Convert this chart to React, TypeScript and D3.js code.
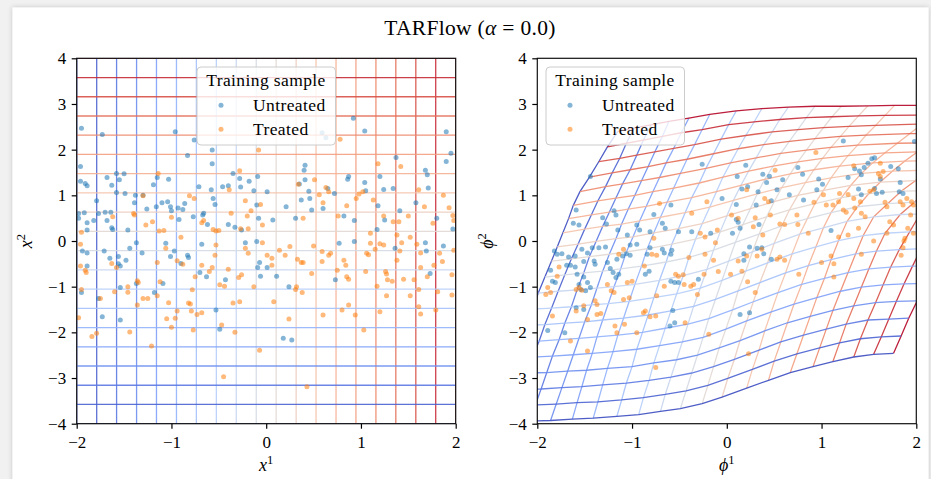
import * as d3 from "d3";
import React, { useEffect, useRef } from "react";

const WIDTH = 931;
const HEIGHT = 479;
const SERIF = "'Liberation Serif', 'DejaVu Serif', serif";

const TICKS_X = [-2, -1, 0, 1, 2];
const TICKS_Y = [-4, -3, -2, -1, 0, 1, 2, 3, 4];
const SERIES = ["Untreated", "Treated"];
const SERIES_COLORS = ["#1f77b4", "#ff7f0e"];

// uniform grid in data space (x1 and x2 lines)
const GRID_U = [-2, -1.789, -1.579, -1.368, -1.158, -0.947, -0.737, -0.526, -0.316, -0.105,
  0.105, 0.316, 0.526, 0.737, 0.947, 1.158, 1.368, 1.579, 1.789, 2];
const GRID_V = [-4, -3.579, -3.158, -2.737, -2.316, -1.895, -1.474, -1.053, -0.632, -0.211,
  0.211, 0.632, 1.053, 1.474, 1.895, 2.316, 2.737, 3.158, 3.579, 4];

// the same grid after the flow: node [row j][column i]
const PHI_GRID_X = [
  [-2.53, -2.30, -2.08, -1.86, -1.63, -1.41, -1.16, -0.93, -0.70, -0.49, -0.26, -0.05, 0.21, 0.44, 0.67, 0.91, 1.12, 1.34, 1.55, 1.76],
  [-2.46, -2.24, -2.02, -1.80, -1.58, -1.36, -1.11, -0.88, -0.65, -0.43, -0.20, 0.01, 0.27, 0.50, 0.74, 0.98, 1.19, 1.41, 1.63, 1.84],
  [-2.39, -2.18, -1.96, -1.74, -1.53, -1.31, -1.06, -0.82, -0.59, -0.37, -0.14, 0.08, 0.34, 0.57, 0.81, 1.05, 1.26, 1.49, 1.71, 1.92],
  [-2.32, -2.11, -1.90, -1.68, -1.48, -1.26, -1.00, -0.77, -0.53, -0.31, -0.08, 0.14, 0.40, 0.64, 0.88, 1.12, 1.34, 1.57, 1.79, 2.01],
  [-2.25, -2.05, -1.84, -1.62, -1.42, -1.20, -0.95, -0.71, -0.47, -0.25, -0.01, 0.21, 0.47, 0.71, 0.95, 1.20, 1.42, 1.65, 1.87, 2.09],
  [-2.18, -1.98, -1.77, -1.56, -1.37, -1.15, -0.89, -0.65, -0.41, -0.19, 0.06, 0.28, 0.54, 0.79, 1.03, 1.28, 1.50, 1.73, 1.96, 2.18],
  [-2.11, -1.92, -1.71, -1.50, -1.31, -1.09, -0.83, -0.59, -0.35, -0.12, 0.12, 0.35, 0.62, 0.86, 1.10, 1.36, 1.58, 1.82, 2.05, 2.28],
  [-2.05, -1.85, -1.64, -1.43, -1.25, -1.03, -0.77, -0.53, -0.28, -0.05, 0.20, 0.43, 0.69, 0.94, 1.18, 1.44, 1.67, 1.93, 2.16, 2.39],
  [-1.99, -1.78, -1.58, -1.37, -1.19, -0.97, -0.71, -0.46, -0.21, 0.02, 0.27, 0.50, 0.77, 1.02, 1.27, 1.55, 1.83, 2.04, 2.27, 2.50],
  [-1.92, -1.71, -1.51, -1.31, -1.12, -0.90, -0.64, -0.40, -0.14, 0.09, 0.34, 0.58, 0.85, 1.10, 1.38, 1.70, 1.98, 2.18, 2.40, 2.63],
  [-1.85, -1.64, -1.45, -1.24, -1.06, -0.84, -0.58, -0.33, -0.07, 0.17, 0.42, 0.66, 0.93, 1.21, 1.50, 1.84, 2.12, 2.32, 2.53, 2.75],
  [-1.79, -1.57, -1.38, -1.17, -0.99, -0.77, -0.51, -0.26, 0.00, 0.25, 0.50, 0.75, 1.02, 1.31, 1.62, 1.99, 2.26, 2.46, 2.66, 2.88],
  [-1.73, -1.50, -1.31, -1.11, -0.92, -0.70, -0.44, -0.18, 0.07, 0.32, 0.58, 0.83, 1.10, 1.42, 1.75, 2.13, 2.40, 2.60, 2.80, 3.01],
  [-1.67, -1.43, -1.24, -1.04, -0.85, -0.63, -0.37, -0.11, 0.15, 0.40, 0.67, 0.92, 1.19, 1.54, 1.88, 2.28, 2.54, 2.74, 2.94, 3.14],
  [-1.62, -1.36, -1.17, -0.97, -0.78, -0.56, -0.29, -0.04, 0.23, 0.49, 0.75, 1.01, 1.28, 1.67, 2.01, 2.42, 2.68, 2.88, 3.08, 3.27],
  [-1.55, -1.28, -1.10, -0.90, -0.71, -0.49, -0.22, 0.04, 0.31, 0.57, 0.84, 1.10, 1.38, 1.80, 2.14, 2.56, 2.82, 3.02, 3.22, 3.40],
  [-1.45, -1.21, -1.02, -0.83, -0.64, -0.42, -0.14, 0.12, 0.39, 0.66, 0.93, 1.20, 1.47, 1.93, 2.27, 2.70, 2.96, 3.16, 3.36, 3.53],
  [-1.35, -1.13, -0.95, -0.76, -0.56, -0.34, -0.06, 0.20, 0.48, 0.75, 1.02, 1.29, 1.57, 2.06, 2.40, 2.84, 3.10, 3.30, 3.50, 3.66],
  [-1.26, -1.06, -0.88, -0.68, -0.48, -0.26, 0.02, 0.29, 0.56, 0.84, 1.11, 1.39, 1.67, 2.19, 2.53, 2.98, 3.24, 3.44, 3.64, 3.79],
  [-1.15, -0.98, -0.80, -0.61, -0.40, -0.18, 0.10, 0.37, 0.65, 0.93, 1.21, 1.49, 1.77, 2.32, 2.66, 3.12, 3.38, 3.58, 3.78, 3.92],
];
const PHI_GRID_Y = [
  [-3.96, -3.95, -3.94, -3.93, -3.90, -3.88, -3.84, -3.80, -3.73, -3.67, -3.56, -3.42, -3.22, -3.05, -2.88, -2.75, -2.64, -2.54, -2.48, -2.46],
  [-3.61, -3.60, -3.59, -3.57, -3.54, -3.52, -3.48, -3.43, -3.36, -3.28, -3.16, -3.01, -2.81, -2.63, -2.47, -2.34, -2.23, -2.14, -2.10, -2.08],
  [-3.25, -3.25, -3.24, -3.21, -3.19, -3.15, -3.11, -3.05, -2.98, -2.89, -2.75, -2.59, -2.39, -2.21, -2.06, -1.93, -1.82, -1.73, -1.71, -1.69],
  [-2.90, -2.89, -2.88, -2.85, -2.83, -2.79, -2.75, -2.67, -2.60, -2.50, -2.34, -2.18, -1.97, -1.79, -1.65, -1.52, -1.42, -1.35, -1.32, -1.31],
  [-2.55, -2.54, -2.52, -2.49, -2.46, -2.42, -2.37, -2.29, -2.21, -2.11, -1.93, -1.75, -1.55, -1.38, -1.24, -1.10, -1.01, -0.96, -0.94, -0.93],
  [-2.20, -2.19, -2.16, -2.13, -2.10, -2.06, -2.00, -1.91, -1.82, -1.70, -1.51, -1.33, -1.13, -0.95, -0.82, -0.69, -0.61, -0.57, -0.55, -0.55],
  [-1.84, -1.83, -1.80, -1.77, -1.73, -1.69, -1.62, -1.53, -1.43, -1.28, -1.09, -0.91, -0.70, -0.54, -0.41, -0.28, -0.22, -0.19, -0.17, -0.17],
  [-1.49, -1.47, -1.44, -1.40, -1.37, -1.32, -1.24, -1.16, -1.03, -0.86, -0.66, -0.48, -0.28, -0.13, 0.01, 0.12, 0.17, 0.20, 0.21, 0.21],
  [-1.14, -1.10, -1.07, -1.03, -1.00, -0.95, -0.86, -0.76, -0.62, -0.44, -0.24, -0.05, 0.15, 0.29, 0.43, 0.53, 0.58, 0.59, 0.59, 0.60],
  [-0.79, -0.74, -0.70, -0.66, -0.61, -0.55, -0.46, -0.36, -0.20, -0.03, 0.15, 0.33, 0.49, 0.62, 0.75, 0.82, 0.85, 0.86, 0.86, 0.86],
  [-0.44, -0.39, -0.34, -0.29, -0.24, -0.17, -0.07, 0.04, 0.20, 0.36, 0.53, 0.68, 0.82, 0.95, 1.04, 1.09, 1.10, 1.11, 1.11, 1.11],
  [-0.13, -0.07, -0.01, 0.05, 0.09, 0.18, 0.27, 0.38, 0.55, 0.71, 0.86, 1.00, 1.11, 1.22, 1.29, 1.32, 1.33, 1.33, 1.33, 1.34],
  [0.18, 0.26, 0.32, 0.37, 0.44, 0.52, 0.62, 0.74, 0.89, 1.03, 1.17, 1.28, 1.38, 1.48, 1.53, 1.55, 1.55, 1.55, 1.56, 1.56],
  [0.49, 0.57, 0.63, 0.70, 0.76, 0.85, 0.95, 1.08, 1.22, 1.35, 1.47, 1.56, 1.64, 1.71, 1.75, 1.76, 1.76, 1.77, 1.77, 1.77],
  [0.78, 0.88, 0.94, 1.00, 1.08, 1.16, 1.27, 1.40, 1.53, 1.64, 1.73, 1.81, 1.87, 1.93, 1.95, 1.96, 1.96, 1.97, 1.97, 1.97],
  [1.08, 1.19, 1.25, 1.32, 1.39, 1.48, 1.59, 1.71, 1.82, 1.92, 1.99, 2.05, 2.10, 2.14, 2.15, 2.16, 2.16, 2.17, 2.17, 2.17],
  [1.40, 1.49, 1.56, 1.63, 1.71, 1.79, 1.91, 2.02, 2.11, 2.18, 2.24, 2.29, 2.32, 2.35, 2.36, 2.36, 2.37, 2.37, 2.37, 2.37],
  [1.74, 1.81, 1.88, 1.95, 2.03, 2.11, 2.23, 2.31, 2.39, 2.44, 2.48, 2.51, 2.53, 2.56, 2.56, 2.57, 2.57, 2.57, 2.58, 2.58],
  [2.06, 2.14, 2.21, 2.29, 2.37, 2.44, 2.55, 2.61, 2.66, 2.70, 2.72, 2.74, 2.75, 2.76, 2.77, 2.77, 2.78, 2.78, 2.78, 2.79],
  [2.40, 2.47, 2.54, 2.62, 2.69, 2.77, 2.85, 2.90, 2.93, 2.95, 2.95, 2.96, 2.97, 2.97, 2.98, 2.98, 2.99, 2.99, 3.00, 3.00],
];

// training sample in data space (left panel)
const UNTREATED_X = [
  [-1.95, 2.47], [-1.96, 1.63], [-1.96, 1.31], [-1.91, 1.26], [-1.89, 1.21], [-1.98, 0.60], [-1.98, 0.50], [-1.92, 0.62],
  [-1.89, 0.40], [-1.82, 0.45], [-1.89, 0.24], [-1.73, 2.33], [-1.79, 0.88], [-1.77, 0.60], [-1.68, 1.39], [-1.70, 0.63],
  [-1.64, 0.63], [-1.68, 0.45], [-1.63, 1.22], [-1.63, 0.29], [-1.62, 0.25], [-1.58, 1.48], [-1.55, 1.34], [-1.58, 1.06],
  [-1.50, 1.47], [-1.49, 1.04], [-1.46, 0.24], [-1.38, 1.00], [-1.39, 0.84], [-1.30, 1.00], [-1.26, 0.70], [-1.19, 1.23],
  [-1.16, 0.75], [-1.15, 1.39], [-1.10, 0.84], [-1.04, 0.86], [-1.03, 1.35], [-1.01, 0.75], [-1.00, 0.66], [-0.96, 2.39],
  [-0.93, 0.72], [-0.92, 0.47], [-0.88, 0.69], [-0.86, 0.82], [-0.83, 1.87], [-0.77, 0.53], [-0.76, 2.21], [-0.71, 1.19],
  [-0.67, 0.57], [-0.66, 0.61], [-0.62, 0.36], [-0.58, 1.12], [-0.57, 1.99], [-0.57, 1.69], [-0.56, 0.93], [-0.54, 0.80],
  [-0.46, 1.19], [-0.40, 1.21], [-0.40, 0.36], [-0.35, 1.48], [-0.33, 0.30], [-0.28, 1.37], [-0.27, 1.18], [-0.26, 0.24],
  [-0.18, 1.31], [-0.13, 1.10], [-0.09, 1.41], [-0.10, 0.79], [-0.08, 0.50], [0.01, 1.08], [0.07, 0.46], [0.21, 0.75],
  [0.31, 0.50], [0.35, 1.25], [0.37, 0.90], [0.40, 1.55], [0.41, 1.66], [0.41, 1.34], [0.45, 1.09], [0.46, 0.93],
  [0.48, 0.68], [0.59, 2.37], [0.63, 2.26], [0.60, 0.71], [0.65, 1.15], [0.72, 1.04], [0.82, 0.55], [0.86, 1.35],
  [0.87, 1.41], [0.92, 2.69], [0.93, 0.45], [1.04, 2.41], [1.04, 1.28], [1.05, 1.10], [1.17, 0.25], [1.18, 0.77],
  [1.20, 1.41], [1.24, 1.13], [1.25, 0.46], [1.34, 1.15], [1.37, 1.83], [1.41, 0.66], [1.58, 0.84], [1.68, 1.55],
  [1.70, 1.45], [1.71, 1.16], [1.80, 0.50], [1.90, 2.39], [1.90, 1.74], [1.95, 1.92], [1.97, 0.26],
  [-1.95, -1.13], [-1.94, -0.22], [-1.89, -0.26], [-1.89, -0.55], [-1.77, -1.26], [-1.73, -1.66], [-1.71, -0.22],
  [-1.65, -0.38], [-1.56, -0.34], [-1.56, -0.50], [-1.54, -0.55], [-1.54, -1.02], [-1.54, -1.73], [-1.48, -0.42],
  [-1.44, -0.16], [-1.37, -0.04], [-1.37, -0.93], [-1.31, -0.26], [-1.18, -1.13], [-1.09, -0.93], [-1.06, -0.05],
  [-1.01, -0.34], [-0.97, -0.22], [-0.90, -0.49], [-0.83, -0.31], [-0.82, -0.36], [-0.70, -0.69], [-0.63, -0.78],
  [-0.68, -0.07], [-0.53, -1.51], [-0.49, -1.93], [-0.43, -0.85], [-0.22, -0.04], [-0.10, -0.01], [-0.07, -0.47],
  [-0.09, -0.58], [-0.06, -0.77], [0.01, -0.58], [0.11, -0.77], [0.24, -1.00], [0.18, -2.13], [0.27, -2.17],
  [0.73, -0.85], [0.77, -0.05], [0.93, -0.01], [1.36, -0.16], [1.68, -0.04], [1.69, -0.22], [1.73, -0.71], [1.87, -0.11],
];
const TREATED_X = [
  [-1.95, 0.19], [-1.62, 0.53], [-1.40, 0.60], [-1.39, 0.57], [-1.27, 0.35], [-1.30, 0.99], [-1.20, 0.42], [-1.14, 1.48],
  [-1.13, 0.22], [-1.08, 0.23], [-1.00, 0.52], [-0.90, 0.08], [-0.81, 0.99], [-0.76, 0.93], [-0.68, 0.40], [-0.66, 0.45],
  [-0.56, 0.25], [-0.53, 0.22], [-0.50, 0.23], [-0.39, 1.12], [-0.37, 0.61], [-0.28, 1.54], [-0.27, 0.27], [-0.22, 0.88],
  [-0.20, 0.55], [-0.19, 0.27], [-0.16, 0.66], [-0.08, 1.99], [-0.06, 0.80], [-0.04, 0.35], [0.34, 1.24], [0.39, 0.50],
  [0.51, 1.34], [0.56, 1.01], [0.60, 0.84], [0.63, 1.17], [0.66, 1.08], [0.76, 0.55], [0.78, 2.23], [0.85, 0.77],
  [0.95, 0.93], [0.98, 1.03], [1.02, 1.08], [1.13, 0.90], [1.18, 1.69], [1.24, 0.55], [1.34, 0.42], [1.40, 0.42],
  [1.42, 1.63], [1.50, 0.55], [1.61, 1.12], [1.67, 0.75], [1.76, 0.39], [1.87, 1.00], [1.93, 0.73], [1.97, 0.56],
  [1.98, 0.45], [1.10, 0.17], [1.38, 0.13], [1.52, 0.08],
  [-1.98, -1.68], [-1.96, -0.07], [-1.96, -0.55], [-1.91, -0.64], [-1.90, -0.69], [-1.95, -1.06], [-1.84, -2.09],
  [-1.79, -2.02], [-1.75, -1.26], [-1.63, -0.49], [-1.60, -1.11], [-1.58, -0.58], [-1.46, -1.00], [-1.46, -1.12],
  [-1.44, -1.99], [-1.36, -0.87], [-1.35, -0.91], [-1.36, -1.40], [-1.30, -1.26], [-1.25, -1.26], [-1.21, -2.30],
  [-1.15, -0.47], [-1.15, -1.20], [-1.12, -0.89], [-1.06, -0.16], [-1.05, -1.70], [-1.03, -1.35], [-1.00, -1.89],
  [-0.96, -1.69], [-0.94, -1.53], [-0.94, -0.43], [-0.88, -0.51], [-0.82, -1.36], [-0.80, -1.38], [-0.79, -1.53],
  [-0.78, -1.07], [-0.77, -1.95], [-0.75, -0.78], [-0.73, -1.61], [-0.68, -1.57], [-0.68, -0.53], [-0.60, -0.67],
  [-0.57, -0.58], [-0.54, -0.31], [-0.53, -0.09], [-0.49, -0.96], [-0.47, -1.84], [-0.45, -2.97], [-0.44, -0.99],
  [-0.40, -0.62], [-0.35, -1.36], [-0.33, -2.00], [-0.28, -1.33], [-0.29, -0.80], [-0.26, -0.74], [-0.22, -0.16],
  [-0.19, -0.27], [-0.13, -1.00], [-0.07, -2.39], [-0.04, -0.04], [0.01, -0.31], [0.06, -0.38], [0.06, -0.53],
  [0.08, -1.33], [0.14, -0.20], [0.20, -0.31], [0.24, -1.71], [0.25, -0.12], [0.31, -1.06], [0.32, -1.00],
  [0.33, -0.40], [0.37, -0.47], [0.39, -0.47], [0.38, -1.13], [0.43, -3.19], [0.48, -0.71], [0.50, -0.11],
  [0.59, -0.23], [0.59, -0.45], [0.60, -1.62], [0.66, -0.31], [0.68, -0.27], [0.75, -0.64], [0.80, -1.51],
  [0.82, -0.42], [0.84, -0.53], [0.85, -0.78], [0.87, -0.84], [0.87, -1.40], [0.94, -1.62], [1.03, -1.95],
  [1.05, -0.67], [1.06, -0.27], [1.08, -0.30], [1.15, -0.18], [1.17, -0.99], [1.20, -1.55], [1.26, -0.67],
  [1.27, -0.72], [1.28, -0.85], [1.27, -1.20], [1.33, -0.88], [1.38, -0.42], [1.41, -0.22], [1.45, -0.84],
  [1.52, -1.20], [1.56, -0.85], [1.61, -1.06], [1.61, -1.44], [1.63, -0.58], [1.63, -0.26], [1.63, -1.60],
  [1.70, -0.78], [1.77, -0.53], [1.79, -1.51], [1.81, -1.11], [1.83, -0.27], [1.86, -0.45], [1.96, -1.18],
  [1.96, -0.74], [1.98, -0.20], [1.10, -0.05], [1.20, -0.06], [1.24, -0.09], [1.43, -0.04], [1.59, -0.07],
];

// training sample after the flow (right panel)
const UNTREATED_PHI = [
  [-0.26, 1.68], [-1.44, 1.41], [-0.59, 0.79], [-0.77, 0.58], [-1.19, 0.66], [-1.17, 0.57], [-1.59, 0.68], [-1.62, 0.39],
  [-1.56, 0.35], [-1.31, 0.51], [-1.27, 0.37], [-1.15, 0.24], [-1.05, 0.13], [-0.68, 0.39], [-0.65, 0.28], [-0.95, 0.35],
  [-0.92, 0.24], [-0.81, 0.20], [-0.51, 0.20], [-0.37, 0.20], [-0.17, 0.17], [-0.05, 0.93],
  [1.23, 2.19], [1.98, 2.18], [0.20, 1.66], [0.11, 1.41], [0.16, 1.14], [0.22, 1.19], [0.38, 1.46], [0.45, 1.42],
  [0.42, 1.28], [0.59, 1.34], [0.75, 1.61], [0.80, 1.46], [0.66, 1.01], [0.33, 1.08], [0.10, 0.80], [0.10, 0.47],
  [0.12, 0.41], [0.14, 0.28], [0.06, 0.17], [0.34, 0.36], [0.47, 0.88], [0.53, 1.12], [0.81, 0.90], [0.97, 1.36],
  [1.01, 1.24], [0.95, 1.12], [1.10, 0.23], [1.28, 1.39], [1.35, 1.58], [1.40, 1.53], [1.45, 1.61], [1.49, 1.70],
  [1.53, 1.80], [1.56, 1.82], [1.42, 1.45], [1.39, 1.14], [1.42, 1.01], [1.56, 1.15], [1.62, 1.36], [1.58, 1.04],
  [1.64, 1.07], [1.73, 1.63], [1.81, 1.58], [1.83, 1.28], [1.82, 1.08], [1.86, 1.04], [0.31, 0.79],
  [-1.74, -0.28], [-1.67, -0.35], [-1.60, -0.33], [-1.53, -0.18], [-1.47, -0.26], [-1.42, -0.15], [-1.35, -0.15],
  [-1.28, -0.13], [-1.69, -0.53], [-1.65, -0.53], [-1.60, -0.57], [-1.51, -0.45], [-1.40, -0.44], [-1.39, -0.51],
  [-1.58, -0.73], [-1.51, -0.79], [-1.84, -0.88], [-1.81, -0.91], [-1.47, -0.91], [-1.44, -1.02], [-1.56, -0.95],
  [-1.54, -1.06], [-1.49, -1.09], [-1.26, -0.47], [-1.23, -0.60], [-1.20, -0.69], [-1.17, -0.80], [-1.14, -0.73],
  [-1.16, -0.40], [-1.10, -0.33], [-1.06, -0.28], [-1.02, -0.31], [-0.95, -0.07], [-0.84, -0.29], [-0.81, -0.15],
  [-0.86, -0.73], [-0.82, -0.66], [-0.68, -0.18], [-0.66, -0.26], [-0.59, -0.29], [-0.58, -0.20], [-0.59, -0.88],
  [-0.55, -0.91], [-0.51, -0.91], [-0.30, -0.84], [-0.57, -1.52], [-0.60, -1.86], [-0.55, -1.79], [-1.89, -1.96],
  [-1.71, -2.01], [-1.59, -1.46], [-1.51, -1.50], [-1.82, -0.22], [-1.79, -0.29], [-1.86, -0.64], [-1.02, -0.09],
  [0.24, -0.13], [0.32, -0.16], [0.37, -0.15], [0.39, -0.28], [0.18, -0.28], [0.18, -0.42], [0.47, -0.40],
  [0.14, -1.61], [0.24, -1.57],
];
const TREATED_PHI = [
  [-0.71, 0.82], [-0.37, 0.61], [-0.21, 0.86], [-0.10, 0.24], [-0.28, 0.17], [-0.77, 0.06], [-0.23, 0.09],
  [0.94, 1.94], [0.51, 1.55], [1.34, 1.65], [1.62, 1.70], [1.65, 1.52], [0.05, 0.57], [0.12, 0.50], [0.21, 1.12],
  [0.30, 0.51], [0.28, 0.31], [0.38, 0.13], [0.40, 0.93], [0.44, 0.86], [0.46, 0.57], [0.56, 0.37], [0.61, 0.36],
  [0.74, 0.57], [0.75, 0.36], [0.86, 0.17], [0.92, 0.85], [1.02, 1.01], [1.05, 0.79], [1.12, 0.79], [1.18, 0.86],
  [1.19, 1.04], [1.23, 0.68], [1.26, 0.63], [1.28, 1.02], [1.34, 0.93], [1.35, 0.72], [1.41, 0.86], [1.42, 0.61],
  [1.46, 0.53], [1.51, 1.09], [1.55, 1.12], [1.60, 1.48], [1.62, 1.41], [1.67, 0.85], [1.69, 0.75], [1.72, 0.42],
  [1.76, 0.35], [1.83, 0.86], [1.86, 0.79], [1.90, 0.93], [1.95, 0.86], [1.97, 0.79], [1.94, 0.57], [1.91, 0.28],
  [1.97, 0.17], [1.88, 0.06], [1.18, 0.09], [1.28, 0.13], [1.39, 0.28], [1.55, 0.00], [1.69, 0.17],
  [-1.91, -1.17], [-1.86, -1.13], [-1.84, -1.64], [-1.77, -0.57], [-1.79, -0.77], [-1.65, -2.19], [-1.47, -2.41],
  [-1.59, -1.06], [-1.56, -1.02], [-1.53, -1.08], [-1.47, -1.72], [-1.39, -1.31], [-1.37, -1.39], [-1.51, -1.42],
  [-1.59, -1.53], [-1.26, -0.95], [-1.22, -1.09], [-1.19, -1.13], [-1.37, -1.61], [-1.33, -1.59], [-1.18, -1.86],
  [-1.16, -2.01], [-1.08, -1.82], [-1.05, -0.91], [-1.00, -0.88], [-1.09, -1.28], [-1.03, -1.24], [-1.14, -0.29],
  [-1.09, -0.18], [-0.95, -2.01], [-0.88, -1.57], [-0.86, -1.53], [-0.81, -1.66], [-0.75, -1.64], [-0.87, -0.55],
  [-0.79, -0.29], [-0.74, -0.31], [-0.66, -0.99], [-0.74, -1.20], [-0.54, -0.73], [-0.51, -0.77], [-0.46, -0.74],
  [-0.45, -0.95], [-0.38, -0.99], [-0.35, -0.95], [-0.31, -1.17], [-0.75, -2.77], [-0.44, -1.79], [-0.19, -2.04],
  [-0.23, -0.29], [-0.14, -0.42], [-0.09, -0.67], [-0.12, -0.04], [-0.40, -0.36], [-1.89, -1.02], [-0.24, -0.73],
  [0.21, -0.33], [0.12, -0.44], [0.16, -0.66], [0.04, -0.73], [0.32, -0.33], [0.37, -0.18], [0.53, -0.40],
  [0.56, -0.35], [0.61, -0.42], [0.22, -0.89], [0.30, -1.13], [0.76, -0.73], [1.00, -0.47], [1.10, -0.33],
  [1.13, -0.50], [1.13, -0.79], [1.42, -0.29], [1.84, -0.31], [1.86, -0.15], [1.87, 0.00], [0.23, -2.47],
];

// matplotlib "coolwarm"
const coolwarm = d3.scaleLinear<string>()
  .domain([0, 0.125, 0.25, 0.375, 0.5, 0.625, 0.75, 0.875, 1])
  .range(["#3b4cc0", "#6282ea", "#8db0fe", "#b8d0f9", "#dddddd", "#f5c4ad", "#f49a7b", "#de604d", "#b40426"])
  .interpolate(d3.interpolateRgb);

const PANELS = [
  { left: 76.7, sym: "x", legendX: 197, pts: [UNTREATED_X, TREATED_X] },
  { left: 537.3, sym: "\u03d5", legendX: 546, pts: [UNTREATED_PHI, TREATED_PHI] },
];
const PANEL_W = 379;
const TOP = 58.3;
const BOTTOM = 423.7;

const fmt = (d: number) => (d < 0 ? "\u2212" + Math.abs(d) : String(d));

const App = () => {
  const svgRef = useRef<SVGSVGElement | null>(null);

  useEffect(() => {
    const svg = d3.select(svgRef.current);
    svg.selectAll("*").remove();

    const defs = svg.append("defs");
    const shadow = defs.append("filter").attr("id", "card-shadow")
      .attr("x", "-5%").attr("y", "-5%").attr("width", "110%").attr("height", "110%");
    shadow.append("feDropShadow").attr("dx", 0).attr("dy", 0)
      .attr("stdDeviation", 2.5).attr("flood-color", "#000").attr("flood-opacity", 0.2);

    svg.append("rect").attr("width", WIDTH).attr("height", HEIGHT).attr("fill", "#f1f1f1");
    svg.append("rect").attr("x", 12.5).attr("y", 7.5).attr("width", 916).attr("height", HEIGHT)
      .attr("fill", "#ffffff").attr("filter", "url(#card-shadow)");

    const title = svg.append("text").attr("x", 470).attr("y", 35).attr("text-anchor", "middle")
      .style("font-family", SERIF).style("font-size", "21.5px").style("letter-spacing", "0.3px").attr("fill", "#000");
    title.append("tspan").text("TARFlow (");
    title.append("tspan").style("font-style", "italic").text("\u03b1");
    title.append("tspan").text(" = 0.0)");

    PANELS.forEach((p, pi) => {
      const x = d3.scaleLinear().domain([-2, 2]).range([p.left, p.left + PANEL_W]);
      const y = d3.scaleLinear().domain([-4, 4]).range([BOTTOM, TOP]);
      const line = d3.line<number[]>().x((d) => x(d[0])).y((d) => y(d[1]));

      const clipId = `clip-${pi}`;
      defs.append("clipPath").attr("id", clipId).append("rect")
        .attr("x", p.left).attr("y", TOP).attr("width", PANEL_W).attr("height", BOTTOM - TOP);
      const plot = svg.append("g").attr("clip-path", `url(#${clipId})`);

      const gridLine = (pts: number[][], t: number) => plot.append("path")
        .attr("d", line(pts)).attr("fill", "none")
        .attr("stroke", coolwarm(t)).attr("stroke-width", 1.3).attr("stroke-opacity", 0.9);

      if (pi === 0) {
        GRID_U.forEach((u, k) => gridLine([[u, -4], [u, 4]], k / 19));
        GRID_V.forEach((v, k) => gridLine([[-2, v], [2, v]], k / 19));
      } else {
        GRID_U.forEach((_, i) => gridLine(PHI_GRID_X.map((row, j) => [row[i], PHI_GRID_Y[j][i]]), i / 19));
        GRID_V.forEach((_, j) => gridLine(PHI_GRID_X[j].map((xv, i) => [xv, PHI_GRID_Y[j][i]]), j / 19));
      }

      p.pts.forEach((series, si) => {
        plot.append("g").selectAll("circle").data(series).enter().append("circle")
          .attr("cx", (d) => x(d[0])).attr("cy", (d) => y(d[1])).attr("r", 2.5)
          .attr("fill", SERIES_COLORS[si]).attr("fill-opacity", 0.55);
      });

      // spines
      svg.append("rect").attr("x", p.left).attr("y", TOP).attr("width", PANEL_W).attr("height", BOTTOM - TOP)
        .attr("fill", "none").attr("stroke", "#111").attr("stroke-width", 1.2);

      const xAxis = svg.append("g").attr("transform", `translate(0,${BOTTOM})`)
        .call(d3.axisBottom(x).tickValues(TICKS_X).tickSize(5).tickPadding(7).tickFormat((d) => fmt(+d)));
      const yAxis = svg.append("g").attr("transform", `translate(${p.left},0)`)
        .call(d3.axisLeft(y).tickValues(TICKS_Y).tickSize(5).tickPadding(5.5).tickFormat((d) => fmt(+d)));
      [xAxis, yAxis].forEach((a) => {
        a.select(".domain").remove();
        a.attr("font-family", SERIF).attr("font-size", 17).attr("color", "#000");
        a.selectAll("line").attr("stroke-width", 1.2);
      });

      const xl = svg.append("text").attr("x", p.left + PANEL_W / 2).attr("y", 471).attr("text-anchor", "middle")
        .style("font-family", SERIF).style("font-size", "18px");
      xl.append("tspan").style("font-style", "italic").text(p.sym);
      xl.append("tspan").attr("dy", -7).style("font-size", "12.5px").text("1");

      const yl = svg.append("text").attr("transform", `translate(${p.left - 44.5},241) rotate(-90)`)
        .attr("text-anchor", "middle").style("font-family", SERIF).style("font-size", "18px");
      yl.append("tspan").style("font-style", "italic").text(p.sym);
      yl.append("tspan").attr("dy", -7).style("font-size", "12.5px").text("2");

      // legend
      const lg = svg.append("g");
      lg.append("rect").attr("x", p.legendX).attr("y", 67).attr("width", 138.5).attr("height", 78).attr("rx", 4)
        .attr("fill", "#fff").attr("fill-opacity", 0.8).attr("stroke", "#cccccc").attr("stroke-width", 1);
      lg.append("text").attr("x", p.legendX + 69).attr("y", 86).attr("text-anchor", "middle")
        .style("font-family", SERIF).style("font-size", "17.5px").style("letter-spacing", "0.4px").text("Training sample");
      SERIES.forEach((name, si) => {
        const cy = 105.3 + si * 24;
        lg.append("circle").attr("cx", p.legendX + 24).attr("cy", cy).attr("r", 2.5)
          .attr("fill", SERIES_COLORS[si]).attr("fill-opacity", 0.55);
        lg.append("text").attr("x", p.legendX + 56).attr("y", cy + 5.8)
          .style("font-family", SERIF).style("font-size", "17.5px").style("letter-spacing", "0.4px").text(name);
      });
    });
  }, []);

  return <svg ref={svgRef} width={WIDTH} height={HEIGHT} style={{ position: "absolute", left: 0, top: 0 }} />;
};

export default App;
